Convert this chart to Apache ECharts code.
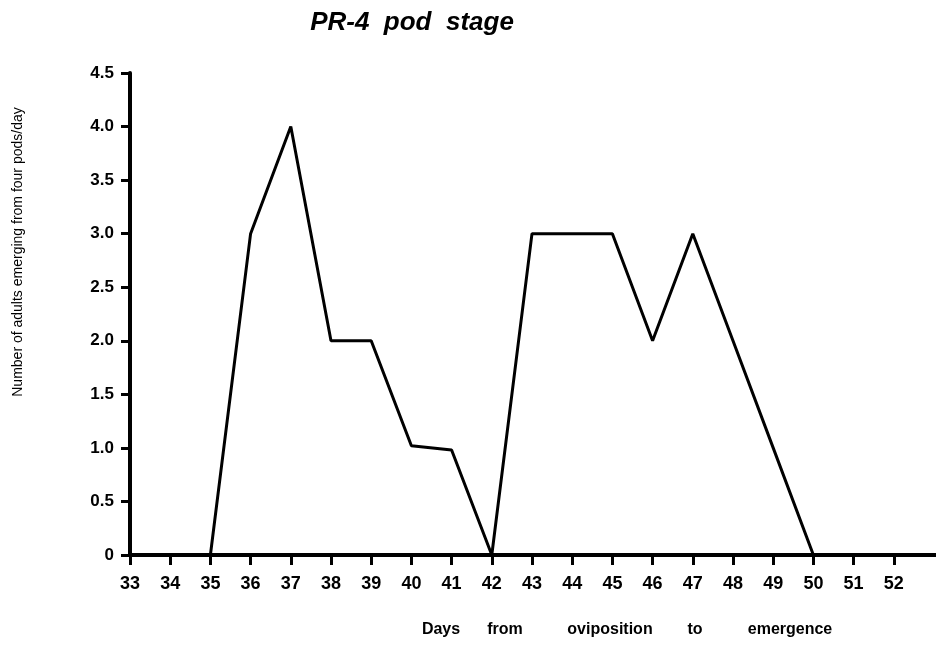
<!DOCTYPE html>
<html><head><meta charset="utf-8">
<script src="https://cdn.jsdelivr.net/npm/echarts@6/dist/echarts.min.js"></script>
<style>html,body{margin:0;padding:0;background:#fff}#c{width:936px;height:645px}</style>
</head><body><div id="c"></div>
<script>
const days = [33,34,35,36,37,38,39,40,41,42,43,44,45,46,47,48,49,50,51,52];
const adults = [0,0,0,3,4,2,2,1.02,0.98,0,3,3,3,2,3,2,1,0,0,0];
const yTicks = [0,0.5,1,1.5,2,2.5,3,3.5,4,4.5];
const titleText = 'PR-4  pod  stage';
const xNameWords = ['Days', 'from', 'oviposition', 'to', 'emergence'];
const yName = 'Number of adults emerging from four pods/day';

const wordX = [441, 505, 610, 695, 790];
const chart = echarts.init(document.getElementById('c'));
chart.setOption({
  animation: false,
  backgroundColor: '#fff',
  title: {text: titleText, left: 407, top: 5, textAlign: 'center',
    textStyle: {fontFamily: 'Liberation Sans', fontStyle: 'italic', fontWeight: 'bold', fontSize: 26, color: '#000'}},
  grid: {left: 130, right: 0, top: 73, bottom: 90},
  xAxis: {type: 'value', min: 33, max: 53.05, interval: 1,
    axisLine: {onZero: false, lineStyle: {color: '#000', width: 4}},
    axisTick: {customValues: days, length: 10, lineStyle: {color: '#000', width: 3}},
    axisLabel: {customValues: days, color: '#000', fontFamily: 'Liberation Sans', fontWeight: 'bold', fontSize: 18, margin: 20},
    splitLine: {show: false}},
  yAxis: {type: 'value', min: 0, max: 4.5, interval: 0.5,
    axisLine: {show: true, lineStyle: {color: '#000', width: 4}},
    axisTick: {show: true, length: 9, lineStyle: {color: '#000', width: 3}},
    axisLabel: {color: '#000', fontFamily: 'Liberation Sans', fontWeight: 'bold', fontSize: 17, margin: 16,
      formatter: v => v === 0 ? '0' : v.toFixed(1)},
    splitLine: {show: false}},
  graphic: [
    {type: 'text', rotation: Math.PI/2, x: 18, y: 252,
      style: {text: yName, fill: '#000', font: '14px "Liberation Sans"', align: 'center', verticalAlign: 'middle'}}
  ].concat(xNameWords.map((w, i) => ({type: 'text', x: wordX[i], y: 630,
      style: {text: w, fill: '#000', font: 'bold 16px "Liberation Sans"', align: 'center', verticalAlign: 'middle'}}))),
  series: [{type: 'line', data: days.map((d,i)=>[d, adults[i]]), symbol: 'none',
    lineStyle: {color: '#000', width: 3}, z: 1}]
});
</script></body></html>
